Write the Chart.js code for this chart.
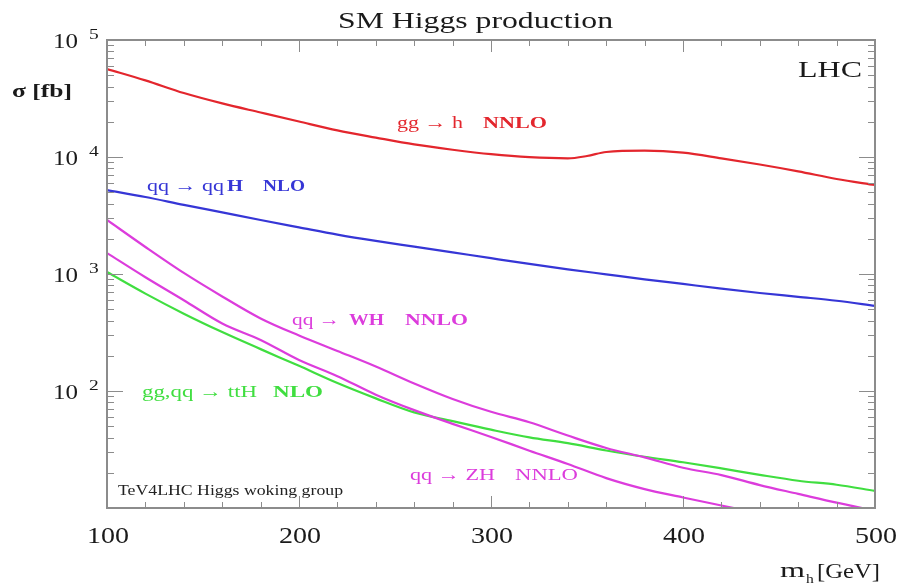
<!DOCTYPE html>
<html>
<head>
<meta charset="utf-8">
<script src="https://cdn.jsdelivr.net/npm/chart.js@4.4.1/dist/chart.umd.min.js"></script>
<style>
  html, body { margin: 0; padding: 0; background: #fff; }
  #wrap { width: 899px; height: 585px; position: relative; }
</style>
</head>
<body>
<div id="wrap"><canvas id="chart"></canvas></div>
<script>
// Higgs mass points (GeV)
const masses = [100, 120, 140, 160, 180, 200, 220, 240, 260, 280, 300, 320, 340, 360, 380, 400, 420, 440, 460, 480, 500];
const ggMasses = [100, 120, 140, 160, 180, 200, 220, 240, 260, 280, 300, 320, 340, 350, 360, 380, 400, 420, 440, 460, 480, 500];

// cross sections in fb
const ggH = [56500, 45200, 35200, 28700, 24000, 20100, 16900, 14650, 12800, 11540, 10570, 9960, 9740, 10200, 11040, 11340, 10890, 9740, 8630, 7540, 6490, 5760];
const qqH = [5220, 4550, 3900, 3360, 2895, 2506, 2172, 1918, 1714, 1530, 1365, 1220, 1097, 994, 901, 822, 750, 688, 638, 591, 533];
const WH = [2896, 1702, 1021, 643, 417, 298, 220, 162, 116, 85.5, 66.4, 54, 41.6, 32.6, 27.1, 22.1, 19.1, 15.7, 13.2, 11.1, 9.5];
const ZH = [1510, 938, 597, 378, 273, 184, 134, 93, 68.6, 52.4, 40.5, 30.9, 23.8, 18.0, 14.5, 12.3, 10.5, 9.0];
const ttH = [1040, 680, 458, 319, 228, 164, 117, 86.5, 65.6, 55.2, 46.7, 40.1, 35.8, 31, 27.4, 24.6, 21.8, 19.2, 17.1, 15.8, 14.0];

const xTickLabels = [100, 200, 300, 400, 500];
const yTickPowers = [2, 3, 4, 5];

const RED = '#e3262d', BLUE = '#3636d6', MAG = '#dc3cdc', GREEN = '#40de40';
const SERIF = '"Liberation Serif", "DejaVu Serif", serif';

function pts(xs, ys) {
  return ys.map((v, i) => ({ x: xs[i], y: v }));
}

// draw text squeezed/stretched horizontally to a target width
function putText(ctx, str, x, y, o) {
  ctx.save();
  ctx.font = o.font;
  ctx.fillStyle = o.color || '#1a1a1a';
  ctx.textBaseline = 'alphabetic';
  const w = ctx.measureText(str).width;
  const sx = o.width ? o.width / w : (o.sx || 1);
  let left = x;
  if (o.align === 'center') left = x - w * sx / 2;
  else if (o.align === 'right') left = x - w * sx;
  ctx.translate(left, y);
  ctx.scale(sx, 1);
  ctx.fillText(str, 0, 0);
  ctx.restore();
}

const notes = [
  { t: 'gg \u2192 h', x: 397, y: 128, w: 66, f: '17px ' + SERIF, c: RED },
  { t: 'NNLO', x: 483, y: 128, w: 64, f: 'bold 17px ' + SERIF, c: RED },
  { t: 'qq \u2192 qq', x: 147, y: 191, w: 77, f: '17px ' + SERIF, c: BLUE },
  { t: 'H', x: 227, y: 191, w: 16, f: 'bold 17px ' + SERIF, c: BLUE },
  { t: 'NLO', x: 263, y: 191, w: 42, f: 'bold 17px ' + SERIF, c: BLUE },
  { t: 'qq \u2192', x: 292, y: 325, w: 48, f: '17px ' + SERIF, c: MAG },
  { t: 'WH', x: 349, y: 325, w: 35, f: 'bold 17px ' + SERIF, c: MAG },
  { t: 'NNLO', x: 405, y: 325, w: 63, f: 'bold 17px ' + SERIF, c: MAG },
  { t: 'gg,qq \u2192 ttH', x: 142, y: 397, w: 115, f: '17px ' + SERIF, c: GREEN },
  { t: 'NLO', x: 273, y: 397, w: 50, f: 'bold 17px ' + SERIF, c: GREEN },
  { t: 'qq \u2192 ZH', x: 410, y: 480, w: 85, f: '17px ' + SERIF, c: MAG },
  { t: 'NNLO', x: 515, y: 480, w: 63, f: '17px ' + SERIF, c: MAG },
  { t: 'TeV4LHC Higgs woking group', x: 118, y: 495, w: 225, f: '14px ' + SERIF, c: '#222' }
];

const frame = {
  id: 'frame',
  afterDatasetsDraw(chart) {
    const { ctx, chartArea: a, scales: { x, y } } = chart;
    ctx.save();
    ctx.strokeStyle = '#8c8c8c';
    ctx.lineWidth = 1;
    ctx.beginPath();
    for (let m = x.min + 20; m < x.max; m += 20) {
      const px = Math.round(x.getPixelForValue(m)) + 0.5;
      const len = m % 100 === 0 ? 12 : 6;
      ctx.moveTo(px, a.bottom); ctx.lineTo(px, a.bottom - len);
      ctx.moveTo(px, a.top); ctx.lineTo(px, a.top + len);
    }
    for (let e = 1; e < 5; e++) {
      for (let k = 1; k < 10; k++) {
        if (e === 1 && k === 1) continue;
        const py = Math.round(y.getPixelForValue(k * Math.pow(10, e))) + 0.5;
        const len = k === 1 ? 16 : 7;
        ctx.moveTo(a.left, py); ctx.lineTo(a.left + len, py);
        ctx.moveTo(a.right, py); ctx.lineTo(a.right - len, py);
      }
    }
    ctx.stroke();
    ctx.lineWidth = 2;
    ctx.strokeRect(a.left, a.top, a.right - a.left, a.bottom - a.top);
    ctx.restore();
  },
  afterDraw(chart) {
    const { ctx, scales: { x, y } } = chart;
    putText(ctx, 'SM Higgs production', 338, 28, { font: '23px ' + SERIF, width: 275 });
    putText(ctx, '\u03c3 [fb]', 12, 97, { font: 'bold 19px ' + SERIF, width: 60 });
    putText(ctx, 'LHC', 862, 77, { font: '24px ' + SERIF, width: 64, align: 'right' });

    yTickPowers.forEach(p => {
      const py = y.getPixelForValue(Math.pow(10, p));
      putText(ctx, '10', 78, py + 8, { font: '22px ' + SERIF, width: 25, align: 'right' });
      putText(ctx, String(p), 89, py - 1, { font: '15px ' + SERIF, sx: 1.3 });
    });
    xTickLabels.forEach(v => {
      const px = x.getPixelForValue(v);
      putText(ctx, String(v), px + 1, 543, { font: '23px ' + SERIF, width: 42, align: 'center' });
    });
    putText(ctx, 'm', 780, 577, { font: '22px ' + SERIF, width: 25 });
    putText(ctx, 'h', 806, 583, { font: '13px ' + SERIF, sx: 1.2 });
    putText(ctx, '[GeV]', 817, 578, { font: '22px ' + SERIF, width: 63 });

    notes.forEach(n => putText(ctx, n.t, n.x, n.y, { font: n.f, width: n.w, color: n.c }));
  }
};

const line = (label, xs, ys, color) => ({
  label,
  data: pts(xs, ys),
  borderColor: color,
  backgroundColor: color,
  borderWidth: 2.2,
  pointRadius: 0,
  cubicInterpolationMode: 'monotone',
  fill: false
});

new Chart(document.getElementById('chart'), {
  type: 'line',
  data: {
    datasets: [
      line('gg \u2192 h NNLO', ggMasses, ggH, RED),
      line('qq \u2192 qqH NLO', masses, qqH, BLUE),
      line('qq \u2192 WH NNLO', masses, WH, MAG),
      line('qq \u2192 ZH NNLO', masses, ZH, MAG),
      line('gg,qq \u2192 ttH NLO', masses, ttH, GREEN)
    ]
  },
  options: {
    responsive: true,
    maintainAspectRatio: false,
    animation: false,
    layout: { padding: { left: 107, right: 24, top: 40, bottom: 77 } },
    plugins: { legend: { display: false }, tooltip: { enabled: false } },
    scales: {
      x: { type: 'linear', min: 100, max: 500, display: false },
      y: { type: 'logarithmic', min: 10, max: 100000, display: false }
    }
  },
  plugins: [frame]
});
</script>
</body>
</html>
